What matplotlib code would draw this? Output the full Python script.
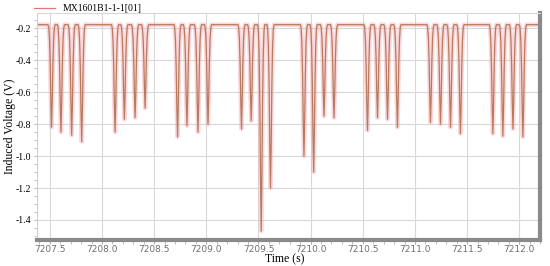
import numpy as np
import matplotlib.pyplot as plt
from matplotlib.ticker import MultipleLocator

# dip centre times (s) and minimum voltages (V)
dip_times = [7207.516, 7207.606, 7207.709, 7207.805,
             7208.125, 7208.214, 7208.317, 7208.413,
             7208.724, 7208.814, 7208.920, 7209.016,
             7209.337, 7209.430, 7209.526, 7209.615,
             7209.936, 7210.029, 7210.128, 7210.224,
             7210.545, 7210.641, 7210.737, 7210.832,
             7211.149, 7211.245, 7211.341, 7211.436,
             7211.747, 7211.843, 7211.940, 7212.035]
dip_minima = [-0.82, -0.85, -0.87, -0.91,
              -0.85, -0.77, -0.76, -0.70,
              -0.88, -0.81, -0.85, -0.80,
              -0.83, -0.78, -1.47, -1.20,
              -1.00, -1.10, -0.75, -0.76,
              -0.84, -0.76, -0.77, -0.82,
              -0.79, -0.80, -0.82, -0.86,
              -0.86, -0.875, -0.83, -0.88]
baseline = -0.178
t_start, t_end = 7207.375, 7212.2

# shape of one dip: time offsets and fraction of depth
off = np.array([-0.034, -0.027, -0.02, -0.013, -0.007, 0.0, 0.007, 0.013, 0.02, 0.027, 0.034])
frac = np.array([0.0, 0.03, 0.14, 0.38, 0.72, 1.0, 0.72, 0.38, 0.14, 0.03, 0.0])

t = [t_start]
v = [baseline]
for tc, vm in zip(dip_times, dip_minima):
    t.extend(tc + off)
    v.extend(baseline + frac * (vm - baseline))
t.append(t_end)
v.append(baseline)

fig = plt.figure(figsize=(5.5, 2.66), dpi=100)
ax = fig.add_axes([0.067, 0.098, 0.915, 0.853])

ax.plot(t, v, color='#f4a8b0', lw=3.2, alpha=0.45, solid_joinstyle='round')
ax.plot(t, v, color='#b97a5e', lw=0.9, label='MX1601B1-1-1[01]')

ax.set_xlim(t_start, t_end)
ax.set_ylim(-1.525, -0.105)
ax.xaxis.set_major_locator(MultipleLocator(0.5))
ax.xaxis.set_minor_locator(MultipleLocator(0.1))
ax.yaxis.set_major_locator(MultipleLocator(0.2))
ax.yaxis.set_minor_locator(MultipleLocator(0.05))
ax.xaxis.set_major_formatter(plt.FuncFormatter(lambda x, p: '%.1f' % x))
ax.yaxis.set_major_formatter(plt.FuncFormatter(lambda y, p: '%.1f' % y))

ax.grid(True, which='major', color='#d8d8d8', lw=0.8)
ax.tick_params(axis='x', which='both', length=3, color='#b0b0b0', labelsize=6.5,
               labelcolor='#707070', pad=1)
ax.tick_params(axis='y', which='both', length=2, color='#c0c0c0', labelsize=7, pad=2)
for lab in ax.get_yticklabels():
    lab.set_family('Liberation Serif')

ax.spines['bottom'].set_color('#8a8a8a')
ax.spines['bottom'].set_linewidth(3)
ax.spines['right'].set_color('#8a8a8a')
ax.spines['right'].set_linewidth(3)
ax.spines['left'].set_color('#d0d0d0')
ax.spines['top'].set_color('#d8d8d8')

ax.set_xlabel('Time (s)', family='Liberation Serif', fontsize=8.5, va='bottom')
ax.xaxis.set_label_coords(0.493, -0.112)
ax.set_ylabel('Induced Voltage (V)', family='Liberation Serif', fontsize=8.5, va='center')
ax.yaxis.set_label_coords(-0.053, 0.5)

leg = ax.legend(loc='lower left', bbox_to_anchor=(-0.01, 0.99), frameon=False,
                prop={'family': 'Liberation Serif', 'size': 7}, handlelength=2.2,
                borderaxespad=0, borderpad=0.2)
leg.get_lines()[0].set_color('#e07878')

fig.savefig('out.png')
